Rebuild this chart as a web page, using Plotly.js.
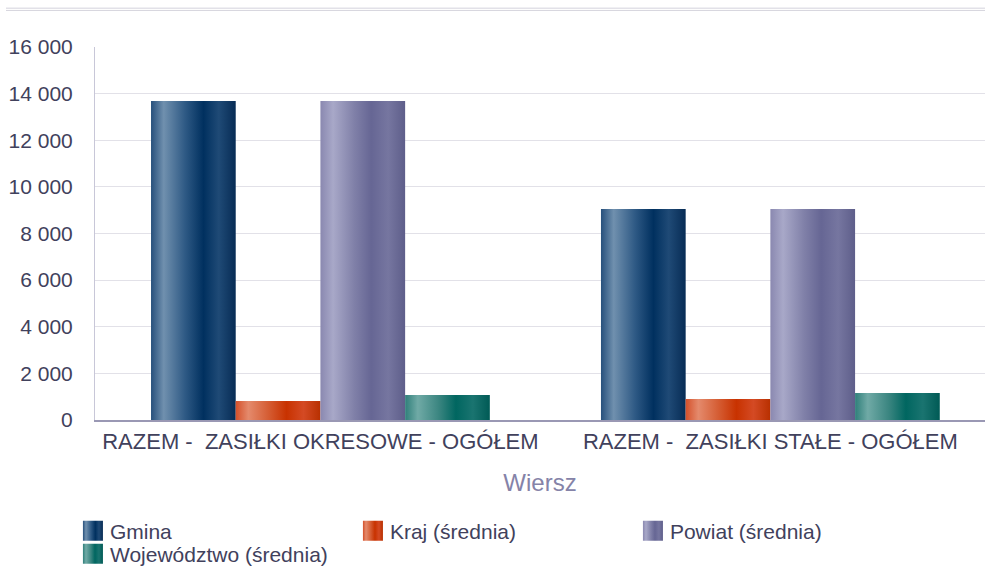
<!DOCTYPE html>
<html><head><meta charset="utf-8">
<script src="https://cdn.plot.ly/plotly-3.0.1.min.js"></script>
<style>html,body{margin:0;padding:0;background:#fff}#c{width:985px;height:566px}</style>
</head><body><div id="c"></div>
<script>
const categories = ["RAZEM - \u00a0ZASIŁKI OKRESOWE - OGÓŁEM", "RAZEM - \u00a0ZASIŁKI STAŁE - OGÓŁEM"];
const seriesNames = ["Gmina", "Kraj (średnia)", "Powiat (średnia)", "Województwo (średnia)"];
const gmina = [13680, 9050];
const kraj = [815, 900];
const powiat = [13680, 9050];
const wojewodztwo = [1070, 1160];
const yTicks = [0, 2000, 4000, 6000, 8000, 10000, 12000, 14000, 16000];
const baseColors = ["#1b4570", "#cc4a1c", "#7a78a4", "#1a716c"];
const gradients = [
  [[0,"#27507c"],[0.15,"#7090ae"],[0.4,"#2f5a85"],[0.62,"#00305f"],[0.8,"#1f4a76"],[1,"#072c55"]],
  [[0,"#d4502a"],[0.15,"#e48a6c"],[0.4,"#d45a30"],[0.6,"#c83200"],[0.8,"#d44a24"],[1,"#b83000"]],
  [[0,"#8a88b0"],[0.15,"#a8a8c8"],[0.4,"#8080a8"],[0.6,"#666694"],[0.8,"#7676a0"],[1,"#5e5e8a"]],
  [[0,"#2f7f7a"],[0.15,"#70aaa6"],[0.4,"#3a8580"],[0.6,"#006660"],[0.8,"#1a7470"],[1,"#005a55"]]
];
const values = [gmina, kraj, powiat, wojewodztwo];
const font = "Liberation Sans, Arial, sans-serif";
const textColor = "#41415c";
const data = values.map((v,i)=>({
  type:"bar", x:categories, y:v, name:seriesNames[i],
  marker:{color:baseColors[i], line:{width:0}}, hoverinfo:"y+name"
}));
const layout = {
  width:985, height:566,
  margin:{l:95, r:0, t:47, b:146},
  paper_bgcolor:"#fff", plot_bgcolor:"#fff",
  separators:", ",
  bargap:0.247, bargroupgap:0,
  font:{family:font, color:textColor, size:21},
  xaxis:{
    type:"category", range:[-0.501, 1.477], showgrid:false, showline:true, linecolor:"#9a98b4", linewidth:1.5,
    tickfont:{size:22, color:textColor}, ticks:"", ticklabelstandoff:1, automargin:false,
    title:{text:"Wiersz", font:{size:24, color:"#8583a8"}, standoff:21}
  },
  yaxis:{
    range:[0,16000], tickvals:yTicks, tickformat:",d", showgrid:true, gridcolor:"#e2e1e8", gridwidth:1,
    showline:true, linecolor:"#c8c7d8", linewidth:1, zeroline:false, automargin:false,
    tickfont:{size:21, color:textColor}, ticklabelstandoff:17
  },
  legend:{orientation:"h", xref:"container", yref:"container", x:0.071, xanchor:"left", y:0.098, yanchor:"top",
    font:{size:21, color:textColor}, entrywidth:235, entrywidthmode:"pixels", tracegroupgap:0, itemclick:false},
  shapes:[
    {type:"line", xref:"paper", yref:"paper", x0:-0.1, x1:1, y0:1.104, y1:1.104, line:{color:"#e2e1e8", width:1.5}},
    {type:"line", xref:"paper", yref:"paper", x0:-0.1, x1:1, y0:1.098, y1:1.098, line:{color:"#d6d5de", width:1}}
  ]
};
Plotly.newPlot("c", data, layout, {displayModeBar:false, staticPlot:true}).then(applyGradients);
function applyGradients(){
  const svg = document.querySelector("#c .main-svg");
  const ns = "http://www.w3.org/2000/svg";
  let defs = svg.querySelector("defs");
  if(!defs){defs=document.createElementNS(ns,"defs");svg.insertBefore(defs,svg.firstChild);}
  gradients.forEach((stops,i)=>{
    const g=document.createElementNS(ns,"linearGradient");
    g.setAttribute("id","bg"+i); g.setAttribute("x1","0"); g.setAttribute("x2","1"); g.setAttribute("y1","0"); g.setAttribute("y2","0");
    g.setAttribute("gradientUnits","objectBoundingBox");
    stops.forEach(s=>{const st=document.createElementNS(ns,"stop");st.setAttribute("offset",s[0]);st.setAttribute("stop-color",s[1]);g.appendChild(st);});
    defs.appendChild(g);
  });
  document.querySelectorAll("#c .barlayer .trace").forEach((t,i)=>{
    t.querySelectorAll("path").forEach(p=>{p.style.fill="url(#bg"+i+")";});
  });
  let firstY = null;
  document.querySelectorAll("#c .legend .traces").forEach((t,i)=>{
    t.querySelectorAll(".legendpoints path").forEach(p=>{p.style.fill="url(#bg"+i+")"; p.setAttribute("d","M-7,-10h20v20h-20Z"); p.style.stroke="none";});
    const m = /translate\(([-\d.]+)[ ,]+([-\d.]+)\)/.exec(t.getAttribute("transform")||"");
    if(m){
      const x=parseFloat(m[1]), y=parseFloat(m[2]);
      if(firstY===null) firstY=y;
      if(y>firstY+1) t.setAttribute("transform","translate("+x+","+(firstY+23)+")");
    }
  });
}
</script></body></html>
